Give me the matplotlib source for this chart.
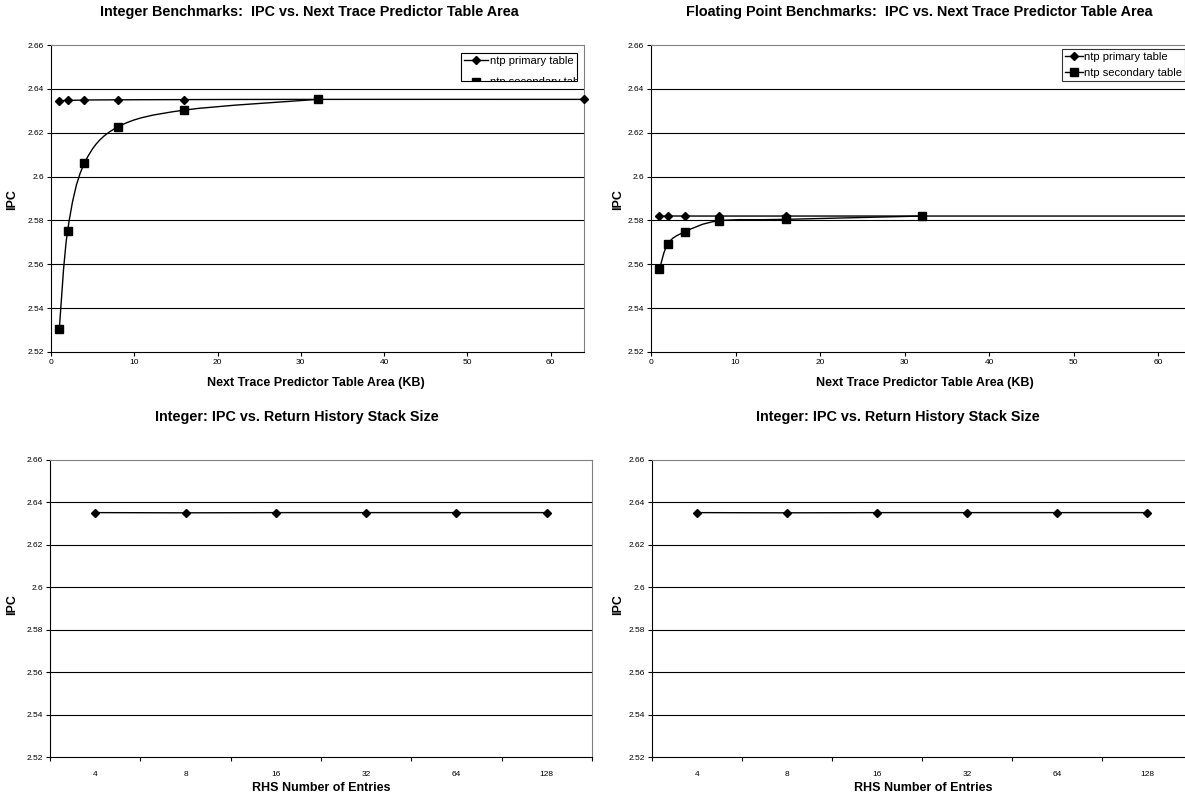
import numpy as np
import matplotlib
matplotlib.use("Agg")
import matplotlib.pyplot as plt
from matplotlib.path import Path
from matplotlib.patches import PathPatch, Rectangle
from matplotlib.lines import Line2D
from matplotlib.transforms import IdentityTransform, Bbox

plt.rcParams['font.family'] = ['Liberation Sans', 'DejaVu Sans']

# ---- data ----
ntp_area = [1, 2, 4, 8, 16, 32, 64]
ntp_area_sec = [1, 2, 4, 8, 16, 32]
int_primary = [2.6346, 2.6347, 2.6349, 2.6350, 2.6351, 2.6352, 2.6352]
int_secondary = [2.5306, 2.5754, 2.6060, 2.6226, 2.6303, 2.6352]
fp_primary = [2.5818, 2.5820, 2.5820, 2.5820, 2.5820, 2.5820, 2.5820]
fp_secondary = [2.5577, 2.5694, 2.5748, 2.5798, 2.5805, 2.5820]

rhs_labels = ['4', '8', '16', '32', '64', '128']
rhs_int = [2.6352, 2.6351, 2.6352, 2.6352, 2.6352, 2.6352]
rhs_int2 = [2.6352, 2.6351, 2.6352, 2.6352, 2.6352, 2.6352]

W, H = 1185, 802
fig = plt.figure(figsize=(W / 100, H / 100), dpi=100)


def px(l, r, t, b):
    return [l / W, (H - b) / H, (r - l) / W, (b - t) / H]


def smooth_path(xs, ys):
    # excel-like smoothed line (catmull-rom bezier)
    pts = np.column_stack([xs, ys]).astype(float)
    n = len(pts)
    verts = [pts[0]]
    codes = [Path.MOVETO]
    for i in range(n - 1):
        p0 = pts[i - 1] if i > 0 else pts[i]
        p1, p2 = pts[i], pts[i + 1]
        p3 = pts[i + 2] if i + 2 < n else pts[i + 1]
        verts += [p1 + (p2 - p0) / 6, p2 - (p3 - p1) / 6, p2]
        codes += [Path.CURVE4] * 3
    return Path(verts, codes)


def style_axes(ax):
    ax.set_ylim(2.52, 2.66)
    yt = np.arange(2.52, 2.6601, 0.02)
    ax.set_yticks(yt)
    ax.set_yticklabels([f'{v:g}' for v in np.round(yt, 2)])
    for v in yt[1:-1]:
        ax.axhline(v, color='black', lw=0.8, zorder=1)
    for s in ['top', 'right']:
        ax.spines[s].set_color('#808080')
    for s in ['left', 'bottom']:
        ax.spines[s].set_color('black')
    for s in ax.spines.values():
        s.set_linewidth(0.8)
    ax.tick_params(direction='out', length=3, width=0.8, labelsize=6, pad=2)


def ntp_plot(ax, prim, sec):
    style_axes(ax)
    ax.set_xlim(0, 64)
    ax.set_xticks(range(0, 61, 10))
    ax.add_patch(PathPatch(smooth_path(ntp_area, prim), fill=False, lw=1, ec='black', zorder=2))
    ax.add_patch(PathPatch(smooth_path(ntp_area_sec, sec), fill=False, lw=1, ec='black', zorder=2))
    ax.plot(ntp_area, prim, ls='none', marker='D', ms=4.5, color='black', clip_on=False, zorder=3)
    ax.plot(ntp_area_sec, sec, ls='none', marker='s', ms=6, color='black', clip_on=False, zorder=3)


def rhs_plot(ax, vals):
    style_axes(ax)
    pos = np.arange(1, len(rhs_labels) + 1)
    ax.set_xlim(0.5, len(rhs_labels) + 0.5)
    ax.set_xticks(np.arange(0.5, len(rhs_labels) + 1, 1))
    ax.set_xticklabels([])
    ax.set_xticks(pos, minor=True)
    ax.set_xticklabels(rhs_labels, minor=True)
    ax.tick_params(axis='x', which='minor', length=0, labelsize=6, pad=10)
    ax.plot(pos, vals, color='black', lw=1, marker='D', ms=4.5, zorder=3)


handles = [Line2D([], [], color='black', lw=1, marker='D', ms=4.5),
           Line2D([], [], color='black', lw=1, marker='s', ms=6)]
names = ['ntp primary table', 'ntp secondary table']
leg_kw = dict(fontsize=8, frameon=True, fancybox=False,
              borderaxespad=0, borderpad=0.25, handletextpad=0.15)

# top left
ax1 = fig.add_axes(px(51, 584, 45, 352))
ntp_plot(ax1, int_primary, int_secondary)
leg1 = ax1.legend(handles, names, loc='upper left', labelspacing=1.05, handlelength=2.2,
                  bbox_to_anchor=((461 - 51) / 533, 1 - 8 / 307), **leg_kw)
leg1.get_frame().set_visible(False)

# top right (cut by the right edge of the image)
ax2 = fig.add_axes(px(651, 1192, 45, 352))
ntp_plot(ax2, fp_primary, fp_secondary)
leg2 = ax2.legend(handles, names, loc='upper left', labelspacing=0.55, handlelength=1.6,
                  bbox_to_anchor=((1062 - 651) / 541, 1 - 4 / 307), **leg_kw)
leg2.get_frame().set_edgecolor('black')
leg2.get_frame().set_linewidth(0.8)

# bottom
ax3 = fig.add_axes(px(50, 592, 460, 757))
rhs_plot(ax3, rhs_int)
ax4 = fig.add_axes(px(652, 1192, 460, 757))
rhs_plot(ax4, rhs_int2)

# titles / labels placed like the excel chart areas
tkw = dict(fontsize=10.4, fontweight='bold', ha='center', va='center')
lkw = dict(fontsize=9, fontweight='bold', ha='center', va='center')
fig.text(309 / W, 1 - 12 / H, 'Integer Benchmarks:  IPC vs. Next Trace Predictor Table Area', **tkw)
fig.text(919 / W, 1 - 12 / H, 'Floating Point Benchmarks:  IPC vs. Next Trace Predictor Table Area', **tkw)
fig.text(297 / W, 1 - 417 / H, 'Integer: IPC vs. Return History Stack Size', **tkw)
fig.text(898 / W, 1 - 417 / H, 'Integer: IPC vs. Return History Stack Size', **tkw)
fig.text(316 / W, 1 - 383 / H, 'Next Trace Predictor Table Area (KB)', **lkw)
fig.text(925 / W, 1 - 383 / H, 'Next Trace Predictor Table Area (KB)', **lkw)
fig.text(321 / W, 1 - 788 / H, 'RHS Number of Entries', **lkw)
fig.text(923 / W, 1 - 788 / H, 'RHS Number of Entries', **lkw)
for xp, yp in [(12, 200), (618, 200), (12, 605), (618, 605)]:
    fig.text(xp / W, 1 - yp / H, 'IPC', rotation=90, **lkw)

# top-left legend box is too small in the original: it hides most of the second entry
fig.canvas.draw()
r = fig.canvas.get_renderer()
ext = leg1.get_window_extent(r)
bx0, bx1 = ext.x0, ext.x0 + 116
by1, by0 = H - 53, H - 81
clip = Bbox([[bx0, by0], [bx1, by1]])
for a in leg1.findobj():
    if a is not leg1:
        a.set_clip_on(True)
        a.set_clip_box(clip)
box = Rectangle((bx0, by0), bx1 - bx0, by1 - by0, transform=IdentityTransform(),
                fc='white', ec='black', lw=0.8, zorder=4.9, clip_on=False)
ax1.add_artist(box)

fig.savefig('out.png', dpi=100)
